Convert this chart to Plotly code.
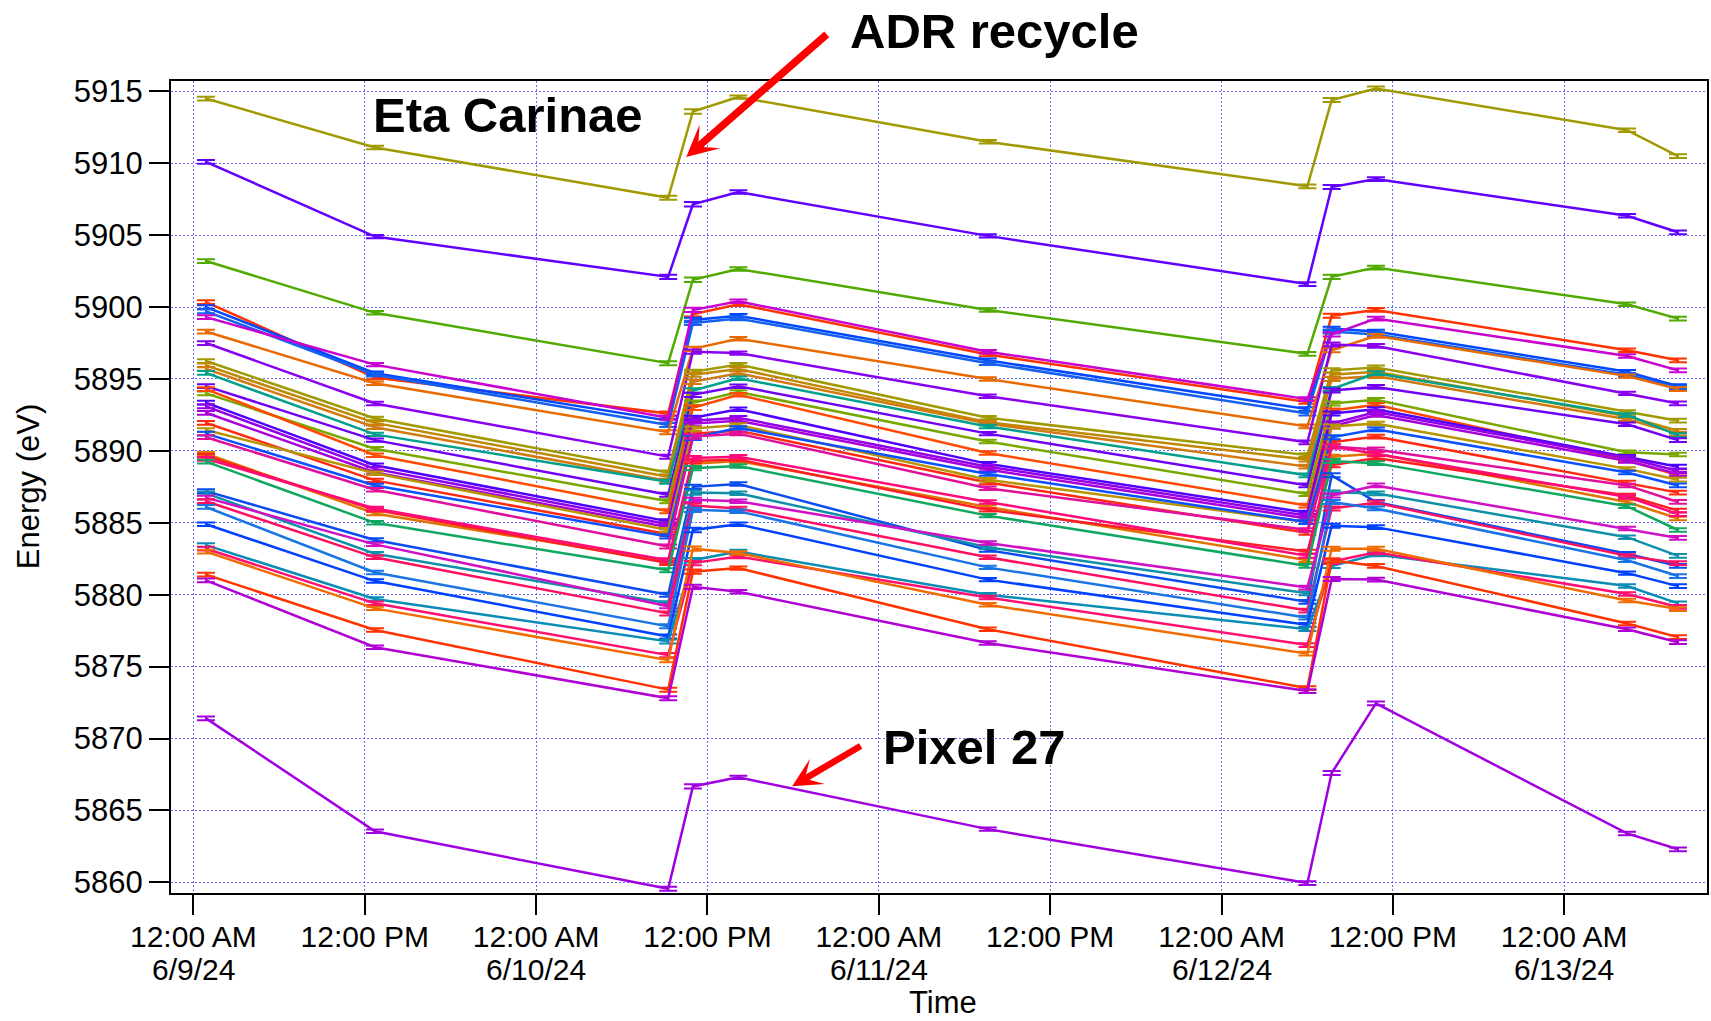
import plotly.graph_objects as go

# Measurement times (one calibration run each)
TIMES = ["2024-06-09 00:53", "2024-06-09 12:43", "2024-06-10 09:15", "2024-06-10 10:59",
         "2024-06-10 14:10", "2024-06-11 07:38", "2024-06-12 06:01", "2024-06-12 07:43",
         "2024-06-12 10:49", "2024-06-13 04:24", "2024-06-13 07:58"]
# 1-sigma uncertainty of each fitted line energy (eV)
ERR = [0.13, 0.12, 0.14, 0.15, 0.12, 0.12, 0.13, 0.14, 0.13, 0.12, 0.13]

# Fitted energy per pixel (eV)
px_olive_top = [5914.5, 5911.1, 5907.6, 5913.6, 5914.6, 5911.5, 5908.4, 5914.4, 5915.2, 5912.3, 5910.5]
px_violet_top = [5910.1, 5904.9, 5902.1, 5907.15, 5908.0, 5904.95, 5901.6, 5908.35, 5908.9, 5906.35, 5905.2]
px_green = [5903.2, 5899.6, 5896.1, 5901.9, 5902.65, 5899.8, 5896.75, 5902.1, 5902.75, 5900.2, 5899.2]
d01 = [5900.35, 5895.1, 5892.6, 5899.5, 5900.2, 5896.7, 5893.4, 5899.4, 5899.8, 5897.0, 5896.3]
d02 = [5900.0, 5895.4, 5892.1, 5899.1, 5899.4, 5896.3, 5892.9, 5898.5, 5898.3, 5895.5, 5894.5]
d03 = [5899.7, 5895.3, 5891.8, 5898.9, 5899.2, 5896.1, 5892.6, 5898.3, 5898.1, 5895.3, 5894.4]
d04 = [5899.3, 5896.0, 5892.3, 5899.8, 5900.4, 5896.9, 5893.6, 5898.1, 5899.2, 5896.6, 5895.6]
d05 = [5898.3, 5894.7, 5891.3, 5897.1, 5897.8, 5895.0, 5891.7, 5897.0, 5898.0, 5895.2, 5894.3]
d06 = [5897.5, 5893.3, 5889.6, 5896.9, 5896.8, 5893.8, 5890.6, 5897.4, 5897.3, 5894.0, 5893.3]
d07 = [5896.25, 5892.25, 5888.5, 5895.5, 5896.0, 5892.3, 5889.7, 5895.6, 5895.8, 5892.7, 5892.1]
d08 = [5895.95, 5891.95, 5888.2, 5895.3, 5895.7, 5892.0, 5889.4, 5895.3, 5895.5, 5892.4, 5891.4]
d09 = [5895.7, 5891.65, 5887.9, 5894.8, 5895.4, 5891.9, 5888.9, 5895.0, 5895.2, 5892.2, 5891.2]
d10 = [5895.42, 5891.15, 5887.85, 5894.2, 5895.05, 5891.7, 5888.3, 5894.3, 5895.4, 5892.5, 5891.1]
d11 = [5894.5, 5890.75, 5886.95, 5893.9, 5894.5, 5891.2, 5887.6, 5894.2, 5894.45, 5891.85, 5890.75]
d12 = [5894.0, 5890.15, 5886.5, 5893.35, 5894.1, 5890.65, 5887.0, 5893.3, 5893.55, 5889.9, 5889.75]
d13 = [5894.3, 5889.7, 5885.8, 5893.0, 5893.9, 5889.85, 5886.2, 5892.8, 5893.2, 5889.35, 5888.3]
d14 = [5893.35, 5889.0, 5885.1, 5892.3, 5892.9, 5889.1, 5885.7, 5892.6, 5892.9, 5889.6, 5888.9]
d15 = [5893.1, 5888.75, 5884.9, 5892.1, 5892.3, 5888.9, 5885.5, 5891.9, 5892.7, 5889.5, 5888.6]
d16 = [5892.65, 5888.5, 5884.7, 5891.9, 5892.1, 5888.7, 5885.3, 5891.7, 5892.5, 5889.3, 5888.4]
d17 = [5891.95, 5887.95, 5884.2, 5891.2, 5891.4, 5887.8, 5884.3, 5890.6, 5891.0, 5887.8, 5887.1]
d18 = [5891.45, 5888.45, 5884.5, 5891.55, 5891.8, 5888.0, 5885.05, 5891.7, 5891.9, 5888.75, 5888.0]
d19 = [5891.2, 5887.6, 5884.05, 5890.9, 5891.6, 5888.4, 5885.05, 5890.95, 5891.5, 5888.5, 5887.6]
d20 = [5890.95, 5887.3, 5883.35, 5891.0, 5891.2, 5887.4, 5884.5, 5890.3, 5890.1, 5887.6, 5886.45]
d21 = [5889.8, 5885.65, 5882.3, 5889.1, 5889.3, 5886.1, 5882.4, 5889.6, 5889.8, 5886.45, 5885.3]
d22 = [5889.65, 5885.9, 5882.2, 5889.3, 5889.4, 5885.9, 5883.0, 5889.0, 5889.5, 5886.9, 5885.85]
d23 = [5889.45, 5886.0, 5882.4, 5889.5, 5889.6, 5886.45, 5882.7, 5890.3, 5889.8, 5886.8, 5885.6]
d24 = [5889.25, 5885.0, 5881.7, 5888.8, 5888.95, 5885.5, 5882.0, 5889.3, 5889.15, 5886.15, 5884.5]
d25 = [5887.2, 5883.8, 5880.0, 5887.5, 5887.7, 5883.1, 5879.5, 5888.3, 5886.45, 5882.85, 5882.0]
d26 = [5887.05, 5882.85, 5879.4, 5887.1, 5887.05, 5883.3, 5880.1, 5887.1, 5887.05, 5884.0, 5882.7]
d27 = [5886.75, 5883.5, 5879.2, 5886.6, 5886.5, 5883.6, 5880.5, 5886.9, 5887.6, 5884.6, 5883.95]
d28 = [5886.5, 5882.6, 5878.7, 5886.2, 5886.0, 5882.6, 5878.9, 5886.0, 5886.4, 5882.7, 5882.2]
d29 = [5886.1, 5881.55, 5877.8, 5885.9, 5885.8, 5881.9, 5878.4, 5886.45, 5886.0, 5882.4, 5881.3]
d30 = [5884.9, 5880.95, 5877.1, 5884.5, 5884.9, 5881.05, 5877.9, 5884.8, 5884.7, 5881.5, 5880.6]
d31 = [5883.45, 5879.7, 5876.75, 5882.4, 5883.0, 5880.0, 5877.6, 5882.0, 5882.8, 5880.6, 5879.4]
d32 = [5883.2, 5879.4, 5875.8, 5882.2, 5882.65, 5879.8, 5876.5, 5882.3, 5882.95, 5880.05, 5879.15]
d33 = [5883.0, 5879.05, 5875.45, 5883.2, 5882.9, 5879.3, 5875.9, 5883.2, 5883.2, 5879.6, 5879.0]
d34 = [5881.4, 5877.55, 5873.4, 5881.6, 5881.85, 5877.6, 5873.5, 5882.4, 5882.0, 5878.0, 5877.05]
d35 = [5881.0, 5876.35, 5872.8, 5880.55, 5880.2, 5876.65, 5873.3, 5881.1, 5881.05, 5877.6, 5876.7]
px_27 = [5871.4, 5863.55, 5859.55, 5866.67, 5867.3, 5863.7, 5859.95, 5867.6, 5872.45, 5863.4, 5862.3]

# Axis ticks
TICK_TIMES = ["2024-06-09 00:00", "2024-06-09 12:00", "2024-06-10 00:00", "2024-06-10 12:00",
              "2024-06-11 00:00", "2024-06-11 12:00", "2024-06-12 00:00", "2024-06-12 12:00",
              "2024-06-13 00:00"]
TICK_TEXT = ["12:00 AM", "12:00 PM", "12:00 AM", "12:00 PM", "12:00 AM", "12:00 PM",
             "12:00 AM", "12:00 PM", "12:00 AM"]
DATE_TICKS = ["2024-06-09 00:00", "2024-06-10 00:00", "2024-06-11 00:00",
              "2024-06-12 00:00", "2024-06-13 00:00"]
DATE_TEXT = ["6/9/24", "6/10/24", "6/11/24", "6/12/24", "6/13/24"]
Y_TICKS = [5860, 5865, 5870, 5875, 5880, 5885, 5890, 5895, 5900, 5905, 5910, 5915]

SERIES = [
    (px_olive_top, "#a09a00"), (px_violet_top, "#6200ff"), (px_green, "#50aa00"),
    (d01, "#ff3300"), (d02, "#0048ff"), (d03, "#1660f0"), (d04, "#c800d0"),
    (d05, "#e86a00"), (d06, "#8800f0"), (d07, "#a09a00"), (d08, "#c08800"),
    (d09, "#d07a10"), (d10, "#00a08c"), (d11, "#7000f4"), (d12, "#78a800"),
    (d13, "#ff4a00"), (d14, "#5000ff"), (d15, "#9200ea"), (d16, "#a800dc"),
    (d17, "#ff2a10"), (d18, "#b89400"), (d19, "#0a50ff"), (d20, "#e0109c"),
    (d21, "#e07400"), (d22, "#ff1e28"), (d23, "#ff0a78"), (d24, "#10a860"),
    (d25, "#0a4cf0"), (d26, "#1090a8"), (d27, "#d010c4"), (d28, "#ff1060"),
    (d29, "#1a74e4"), (d30, "#0040ff"), (d31, "#0a8cb4"), (d32, "#ff1070"),
    (d33, "#f06c00"), (d34, "#ff3300"), (d35, "#b000d4"), (px_27, "#a000e0"),
]

FONT = "Liberation Sans, Arial, Helvetica, sans-serif"

fig = go.Figure()
for values, color in SERIES:
    fig.add_trace(go.Scatter(
        x=TIMES, y=values, mode="lines",
        line=dict(color=color, width=2.5),
        error_y=dict(type="data", array=ERR, visible=True,
                     color=color, thickness=2, width=9),
        showlegend=False, hoverinfo="x+y",
    ))

L, R, T, B = 171, 2, 81, 128
W, H = 1711, 1021
PW, PH = W - L - R, H - T - B


def px(xp):
    return (xp - L) / PW


def py(yp):
    return (H - B - yp) / PH


fig.update_layout(
    width=W, height=H,
    margin=dict(l=L, r=R, t=T, b=B),
    paper_bgcolor="white", plot_bgcolor="white",
    font=dict(family=FONT, size=30, color="black"),
    xaxis=dict(
        type="date", range=["2024-06-08 22:26", "2024-06-13 10:00"],
        tickmode="array", tickvals=TICK_TIMES, ticktext=TICK_TEXT,
        ticks="outside", ticklen=20, tickwidth=2, tickcolor="black",
        ticklabelstandoff=-4,
        showline=True, linecolor="black", linewidth=2, mirror=True,
        showgrid=True, gridcolor="#6b6bff", gridwidth=1, griddash="2px,2px",
        tickfont=dict(family=FONT, size=30, color="black"),
        zeroline=False,
    ),
    yaxis=dict(
        range=[5859.26, 5915.72],
        tickmode="array", tickvals=Y_TICKS,
        ticks="outside", ticklen=20, tickwidth=2, tickcolor="black",
        showline=True, linecolor="black", linewidth=2, mirror=True,
        showgrid=True, gridcolor="#6b6bff", gridwidth=1, griddash="2px,2px",
        tickfont=dict(family=FONT, size=31, color="black"),
        zeroline=False,
    ),
)

# Second line of the date tick labels
for t, label in zip(DATE_TICKS, DATE_TEXT):
    fig.add_annotation(text=label, x=t, xref="x", yref="paper", y=py(969),
                       xanchor="center", yanchor="middle", showarrow=False,
                       font=dict(family=FONT, size=30, color="black"))

# Axis titles
fig.add_annotation(text="Energy (eV)", xref="paper", yref="paper",
                   x=px(28), y=py(487), xanchor="center", yanchor="middle",
                   showarrow=False, textangle=-90,
                   font=dict(family=FONT, size=31, color="black"))
fig.add_annotation(text="Time", xref="paper", yref="paper",
                   x=px(944), y=py(1002), xanchor="center", yanchor="middle",
                   showarrow=False,
                   font=dict(family=FONT, size=31, color="black"))

# Labels
BOLD = dict(family=FONT, size=49, color="black", weight="bold")
fig.add_annotation(text="<b>ADR recycle</b>", xref="paper", yref="paper",
                   x=px(849), y=py(31), xanchor="left", yanchor="middle",
                   showarrow=False, font=BOLD)
fig.add_annotation(text="<b>Eta Carinae</b>", xref="paper", yref="paper",
                   x=px(371), y=py(115), xanchor="left", yanchor="middle",
                   showarrow=False, font=BOLD)
fig.add_annotation(text="<b>Pixel 27</b>", xref="paper", yref="paper",
                   x=px(882), y=py(747), xanchor="left", yanchor="middle",
                   showarrow=False, font=BOLD)

# Arrows
fig.add_annotation(text="", x="2024-06-10 10:31", y=5910.43, xref="x", yref="y",
                   showarrow=True, ax=142, ay=-124, arrowcolor="#ff0000",
                   arrowwidth=7.5, arrowhead=3, arrowsize=0.7)
fig.add_annotation(text="", x="2024-06-10 17:56", y=5866.69, xref="x", yref="y",
                   showarrow=True, ax=70, ay=-41, arrowcolor="#ff0000",
                   arrowwidth=6.5, arrowhead=3, arrowsize=0.75)

fig.write_html("out.html")
